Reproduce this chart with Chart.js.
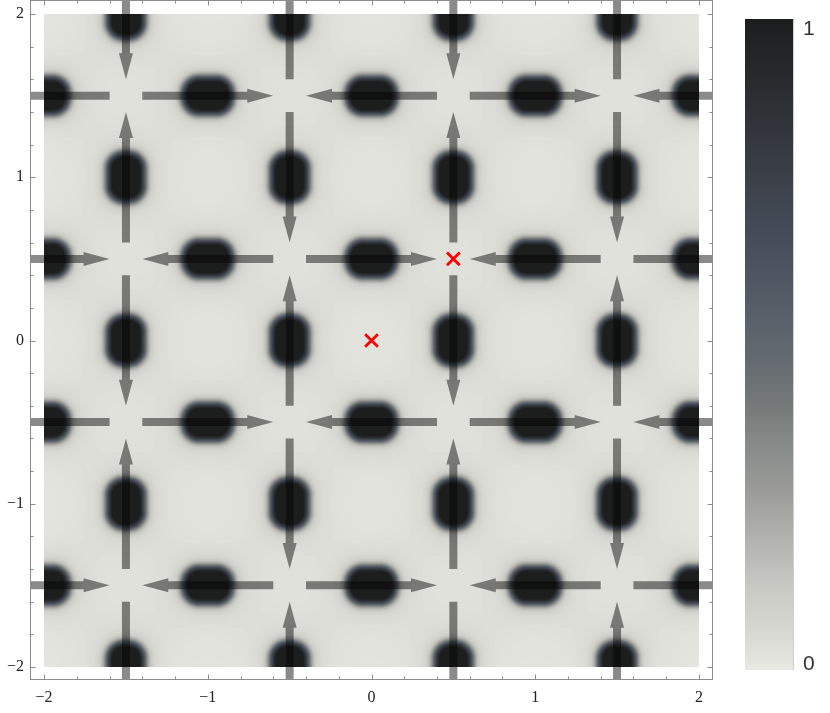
<!DOCTYPE html>
<html><head><meta charset="utf-8">
<script src="https://cdn.jsdelivr.net/npm/chart.js@4.4.1/dist/chart.umd.min.js"></script>
<style>html,body{margin:0;padding:0;background:#fff;}canvas{display:block;}</style>
</head><body>
<canvas id="c" width="830" height="713"></canvas>
<script>
// ---------------- data ----------------
const axisMin = -2.08, axisMax = 2.08;          // plot range (with frame padding)
const fieldMin = -2, fieldMax = 2;               // extent of the density image
const majorTicks = [-2, -1, 0, 1, 2];
const tickLabels = ['\u22122', '\u22121', '0', '1', '2'];
const minorTicks = [-2, -1.8, -1.6, -1.4, -1.2, -1, -0.8, -0.6, -0.4, -0.2, 0,
                    0.2, 0.4, 0.6, 0.8, 1, 1.2, 1.4, 1.6, 1.8, 2];

// dark blobs elongated horizontally (centres)
const hBlobX = [-2, -1, 0, 1, 2];
const hBlobY = [1.5, 0.5, -0.5, -1.5];
// dark blobs elongated vertically (centres)
const vBlobX = [-1.5, -0.5, 0.5, 1.5];
const vBlobY = [2, 1, 0, -1, -2];

// saddle nodes of the flow; 'A' = flow enters vertically & leaves horizontally,
// 'B' = flow enters horizontally & leaves vertically
const nodeX = [-2.5, -1.5, -0.5, 0.5, 1.5, 2.5];
const nodeY = [2.5, 1.5, 0.5, -0.5, -1.5, -2.5];
const nodeType = ['ABABAB', 'BABABA', 'ABABAB', 'BABABA', 'ABABAB', 'BABABA'];

// red markers
const markX = [0, 0.5];
const markY = [0, 0.5];

// colour bar
const cbarValues = [1, 0];
const cbarLabels = ['1', '0'];
const cmapVals = [0, 0.05, 0.12, 0.19, 0.26, 0.33, 0.40, 0.47, 0.54, 0.68, 0.82, 1];
const cmapCols = ['#e9e9e3', '#dadad4', '#cbcbc6', '#b5b5b2', '#a0a09d', '#8a8e8c',
                  '#777b7a', '#656b70', '#58606a', '#444a55', '#33373d', '#1c1d1d'];

// ---------------- styles ----------------
const blobLong = 0.15, blobShort = 0.112, blobCorner = 0.098;
const arrowGap = 0.1, headLen = 26, headHalf = 7, shaftWidth = 8;
const arrowColor = '#8a8a8a';
const frameColor = '#8c8c8c';

function hexRgb(h) { return [parseInt(h.slice(1,3),16), parseInt(h.slice(3,5),16), parseInt(h.slice(5,7),16)]; }
const lut = [];
(function () {
  const rgb = cmapCols.map(hexRgb);
  for (let k = 0; k < 256; k++) {
    const v = k / 255;
    let s = 0;
    while (s < cmapVals.length - 2 && v > cmapVals[s + 1]) s++;
    const t = (v - cmapVals[s]) / (cmapVals[s + 1] - cmapVals[s]);
    lut.push(rgb[s].map((c, n) => Math.round(c + (rgb[s + 1][n] - c) * Math.min(1, Math.max(0, t)))));
  }
})();

const blobs = [];
hBlobX.forEach(x => hBlobY.forEach(y => blobs.push({cx: x, cy: y, hx: blobLong, hy: blobShort})));
vBlobX.forEach(x => vBlobY.forEach(y => blobs.push({cx: x, cy: y, hx: blobShort, hy: blobLong})));

function sdRound(px, py, b) {
  const qx = Math.abs(px - b.cx) - (b.hx - blobCorner);
  const qy = Math.abs(py - b.cy) - (b.hy - blobCorner);
  const ox = Math.max(qx, 0), oy = Math.max(qy, 0);
  return Math.hypot(ox, oy) + Math.min(Math.max(qx, qy), 0) - blobCorner;
}
function blobValue(sd) {
  let v = 1 / (1 + Math.exp(sd / 0.015));
  v += 0.10 * Math.exp(-Math.max(sd, 0) / 0.05);
  v += 0.025 * Math.exp(-(sd * sd) / 0.09);
  return v;
}

const edges = [];
for (let j = 0; j < nodeY.length; j++) for (let i = 0; i < nodeX.length - 1; i++) {
  edges.push(nodeType[j][i] === 'A'
    ? [nodeX[i], nodeY[j], nodeX[i + 1], nodeY[j]]
    : [nodeX[i + 1], nodeY[j], nodeX[i], nodeY[j]]);
}
for (let i = 0; i < nodeX.length; i++) for (let j = 0; j < nodeY.length - 1; j++) {
  edges.push(nodeType[j][i] === 'A'
    ? [nodeX[i], nodeY[j + 1], nodeX[i], nodeY[j]]
    : [nodeX[i], nodeY[j], nodeX[i], nodeY[j + 1]]);
}

const fieldPlugin = {
  id: 'field',
  beforeDatasetsDraw(chart) {
    const {ctx, chartArea: ca, scales: {x: xs, y: ys}} = chart;
    const px0 = Math.round(xs.getPixelForValue(fieldMin)), px1 = Math.round(xs.getPixelForValue(fieldMax));
    const py0 = Math.round(ys.getPixelForValue(fieldMax)), py1 = Math.round(ys.getPixelForValue(fieldMin));
    const w = px1 - px0, h = py1 - py0;
    const off = document.createElement('canvas');
    off.width = w; off.height = h;
    const octx = off.getContext('2d');
    const img = octx.createImageData(w, h);
    const d = img.data;
    const xv = new Float64Array(w);
    for (let i = 0; i < w; i++) xv[i] = xs.getValueForPixel(px0 + i + 0.5);
    for (let j = 0; j < h; j++) {
      const y = ys.getValueForPixel(py0 + j + 0.5);
      for (let i = 0; i < w; i++) {
        const x = xv[i];
        let v = 0;
        for (const b of blobs) {
          if (Math.abs(x - b.cx) > 1.1 || Math.abs(y - b.cy) > 1.1) continue;
          v += blobValue(sdRound(x, y, b));
        }
        const k = Math.max(0, Math.min(255, Math.round(v * 255)));
        const c = lut[k];
        const o = (j * w + i) * 4;
        d[o] = c[0]; d[o + 1] = c[1]; d[o + 2] = c[2]; d[o + 3] = 255;
      }
    }
    octx.putImageData(img, 0, 0);
    ctx.save();
    ctx.drawImage(off, px0, py0);
    // arrows
    ctx.beginPath();
    ctx.rect(ca.left, ca.top, ca.right - ca.left, ca.bottom - ca.top);
    ctx.clip();
    ctx.globalCompositeOperation = 'multiply';
    ctx.fillStyle = arrowColor;
    for (const [x1, y1, x2, y2] of edges) {
      const sx = xs.getPixelForValue(x1 + arrowGap * (x2 - x1));
      const sy = ys.getPixelForValue(y1 + arrowGap * (y2 - y1));
      const tx = xs.getPixelForValue(x2 - arrowGap * (x2 - x1));
      const ty = ys.getPixelForValue(y2 - arrowGap * (y2 - y1));
      const L = Math.hypot(tx - sx, ty - sy);
      const ux = (tx - sx) / L, uy = (ty - sy) / L;
      const bx = tx - headLen * ux, by = ty - headLen * uy;
      const nx = -uy, ny = ux;
      ctx.beginPath();
      ctx.moveTo(sx + nx * shaftWidth / 2, sy + ny * shaftWidth / 2);
      ctx.lineTo(bx + nx * shaftWidth / 2, by + ny * shaftWidth / 2);
      ctx.lineTo(bx + nx * headHalf, by + ny * headHalf);
      ctx.lineTo(tx, ty);
      ctx.lineTo(bx - nx * headHalf, by - ny * headHalf);
      ctx.lineTo(bx - nx * shaftWidth / 2, by - ny * shaftWidth / 2);
      ctx.lineTo(sx - nx * shaftWidth / 2, sy - ny * shaftWidth / 2);
      ctx.closePath();
      ctx.fill();
    }
    ctx.restore();
  },
  afterDraw(chart) {
    const {ctx, chartArea: ca, scales: {x: xs, y: ys}} = chart;
    ctx.save();
    ctx.strokeStyle = frameColor;
    ctx.lineWidth = 1;
    const L = ca.left - 0.5, R = ca.right + 0.5, T = ca.top - 0.5, B = ca.bottom - 0.5;
    ctx.strokeRect(L, T, R - L, B - T);
    ctx.beginPath();
    for (const v of minorTicks) {
      const len = majorTicks.includes(v) ? 5 : 3;
      const px = Math.round(xs.getPixelForValue(v)) + 0.5;
      ctx.moveTo(px, B); ctx.lineTo(px, B - len);
      ctx.moveTo(px, T); ctx.lineTo(px, T + len);
      const py = Math.round(ys.getPixelForValue(v)) + 0.5;
      ctx.moveTo(L, py); ctx.lineTo(L + len, py);
      ctx.moveTo(R, py); ctx.lineTo(R - len, py);
    }
    ctx.stroke();
    // colour bar
    const cbL = ca.right + 33, cbW = 49, cbT = 19, cbB = 670;
    const g = ctx.createLinearGradient(0, cbB, 0, cbT);
    cmapVals.forEach((v, k) => g.addColorStop(v, cmapCols[k]));
    ctx.fillStyle = g;
    ctx.fillRect(cbL, cbT, cbW, cbB - cbT);
    ctx.fillStyle = '#cfcfcf';
    ctx.fillRect(cbL + cbW - 1, cbT, 1, cbB - cbT);
    ctx.fillStyle = '#333';
    ctx.font = '21px "Liberation Sans", Arial, sans-serif';
    ctx.textAlign = 'left';
    ctx.textBaseline = 'alphabetic';
    cbarValues.forEach((v, k) => {
      const y = cbB - v * (cbB - cbT);
      ctx.fillText(cbarLabels[k], cbL + cbW + 9, v === 1 ? y + 16 : y);
    });
    ctx.restore();
  }
};

const tickFont = {family: '"Liberation Serif", "Times New Roman", serif', size: 16};
const labelFor = v => { const k = majorTicks.indexOf(v); return k >= 0 ? tickLabels[k] : ''; };
const noPad = s => { s.paddingTop = 0; s.paddingBottom = 0; s.paddingLeft = 0; s.paddingRight = 0; };

new Chart(document.getElementById('c').getContext('2d'), {
  type: 'scatter',
  data: {
    datasets: [{
      data: markX.map((x, i) => ({x, y: markY[i]})),
      pointStyle: 'crossRot', radius: 9, hoverRadius: 9,
      borderColor: '#ff0000', backgroundColor: '#ff0000', borderWidth: 2.8
    }]
  },
  options: {
    responsive: false, animation: false, devicePixelRatio: 1,
    layout: {autoPadding: false, padding: {left: 0, top: 1, right: 118, bottom: 0}},
    plugins: {legend: {display: false}, tooltip: {enabled: false}},
    events: [],
    scales: {
      x: {
        type: 'linear', min: axisMin, max: axisMax,
        grid: {display: false, drawTicks: false}, border: {display: false},
        afterBuildTicks: s => { s.ticks = majorTicks.map(v => ({value: v})); },
        afterFit: s => { s.height = 33; noPad(s); },
        ticks: {padding: 8, color: '#222', font: tickFont, maxRotation: 0, autoSkip: false, callback: labelFor}
      },
      y: {
        type: 'linear', min: axisMin, max: axisMax,
        grid: {display: false, drawTicks: false}, border: {display: false},
        afterBuildTicks: s => { s.ticks = majorTicks.map(v => ({value: v})); },
        afterFit: s => { s.width = 31; noPad(s); },
        ticks: {padding: 7, color: '#222', font: tickFont, autoSkip: false, callback: labelFor}
      }
    }
  },
  plugins: [fieldPlugin]
});
</script>
</body></html>
